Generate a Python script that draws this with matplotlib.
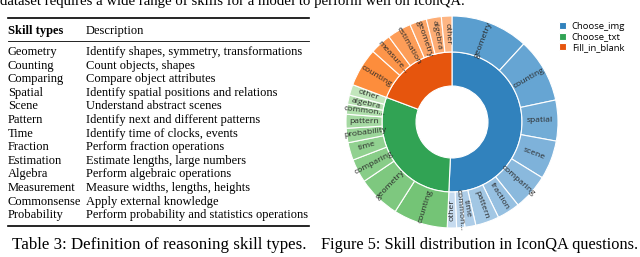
import numpy as np
import matplotlib.pyplot as plt
from matplotlib.colors import to_rgb

W, H = 640, 257

## 표 3 데이터
skills = ['Geometry', 'Counting', 'Comparing', 'Spatial', 'Scene', 'Pattern', 'Time',
          'Fraction', 'Estimation', 'Algebra', 'Measurement', 'Commonsense', 'Probability']
descs = ['Identify shapes, symmetry, transformations',
         'Count objects, shapes',
         'Compare object attributes',
         'Identify spatial positions and relations',
         'Understand abstract scenes',
         'Identify next and different patterns',
         'Identify time of clocks, events',
         'Perform fraction operations',
         'Estimate lengths, large numbers',
         'Perform algebraic operations',
         'Measure widths, lengths, heights',
         'Apply external knowledge',
         'Perform probability and statistics operations']

## 그림 5 데이터 (각도 비율로 읽은 값)
groups = ['Choose_img', 'Choose_txt', 'Fill_in_blank']
img_labels = ['geometry', 'counting', 'spatial', 'scene', 'comparing', 'fraction',
              'pattern', 'time', 'common…', 'other']
img_values = [42.6, 35.4, 22.4, 21.3, 19.8, 12.5, 13.0, 6.0, 4.5, 5.1]
txt_labels = ['counting', 'geometry', 'comparing', 'time', 'probability', 'pattern',
              'common…', 'algebra', 'other']
txt_values = [29.8, 23.6, 13.0, 9.7, 7.9, 7.6, 5.5, 5.0, 5.9]
blank_labels = ['counting', 'measure…', 'estimation', 'geometry', 'algebra', 'other']
blank_values = [21.2, 11.7, 13.2, 9.3, 8.2, 5.8]

fig = plt.figure(figsize=(W / 100, H / 100), dpi=100)


def px(x, y):
    return x / W, 1 - y / H


serif = 'Liberation Serif'

# 위쪽 본문 줄 (원본에서도 잘려 있음)
fig.text(*px(0, 4.5), 'dataset requires a wide range of skills for a model to perform well on IconQA.',
         family=serif, fontsize=10.6, va='baseline')

## 표
x0, x1, xd = 8, 309, 86


def hline(y, lw):
    fig.add_artist(plt.Line2D([x0 / W, x1 / W], [1 - y / H, 1 - y / H],
                              transform=fig.transFigure, color='black', lw=lw))


hline(18, 1.2)
hline(41, 0.6)
hline(226, 1.2)
fs = 9.0
fig.text(*px(x0, 31), 'Skill types', family=serif, fontsize=fs, weight='bold', va='center')
fig.text(*px(xd, 31), 'Description', family=serif, fontsize=fs, va='center')
for i, (s, d) in enumerate(zip(skills, descs)):
    y = 52 + i * 13.6
    fig.text(*px(x0, y), s, family=serif, fontsize=fs, va='center')
    fig.text(*px(xd, y), d, family=serif, fontsize=fs, va='center')

fig.text(*px(159, 245), 'Table 3: Definition of reasoning skill types.',
         family=serif, fontsize=12.2, ha='center', va='center')
fig.text(*px(480, 245), 'Figure 5: Skill distribution in IconQA questions.',
         family=serif, fontsize=11.8, ha='center', va='center')

## 선버스트
ax = fig.add_axes([344 / W, 1 - (14 + 216) / H, 216 / W, 216 / H])

inner_colors = ['#3182bd', '#31a354', '#e6550d']
shade_from = ['#5a9ecf', '#74c476', '#fd8d3c']
shade_to = ['#c6dbef', '#c2e6bc', '#fdb583']


def shades(c0, c1, n):
    a, b = np.array(to_rgb(c0)), np.array(to_rgb(c1))
    return [tuple(a + (b - a) * t) for t in np.linspace(0, 1, n)]


child_sets = [(img_labels, img_values), (txt_labels, txt_values), (blank_labels, blank_values)]
outer_labels, outer_values, outer_colors = [], [], []
for k, (labs, vals) in enumerate(child_sets):
    outer_labels += labs
    outer_values += vals
    outer_colors += shades(shade_from[k], shade_to[k], len(vals))

inner_values = [sum(v) for _, v in child_sets]

R, MID, HOLE = 106, 70, 36
inner_w, _ = ax.pie(inner_values, radius=MID, colors=inner_colors, startangle=90,
                    counterclock=False,
                    wedgeprops=dict(width=MID - HOLE, edgecolor='white', linewidth=0.8))
outer_w, _ = ax.pie(outer_values, radius=R, colors=outer_colors, startangle=90,
                    counterclock=False,
                    wedgeprops=dict(width=R - MID, edgecolor='white', linewidth=0.8))

rt = (R + MID) / 2
for w, lab in zip(outer_w, outer_labels):
    mid = np.deg2rad((w.theta1 + w.theta2) / 2)
    rot = ((np.rad2deg(mid) + 90) % 180) - 90
    ax.text(rt * np.cos(mid), rt * np.sin(mid), lab, rotation=rot, rotation_mode='anchor',
            ha='center', va='center', fontsize=6.1, color='#2a2a2a', family='Open Sans')

ax.set_xlim(-108, 108)
ax.set_ylim(-108, 108)
ax.set_aspect('equal')
ax.axis('off')

fig.legend(inner_w, groups, loc='upper left', bbox_to_anchor=(559 / W, 1 - 22 / H),
           frameon=False, prop=dict(family='Open Sans', size=6.8),
           handlelength=0.75, handleheight=0.75, handletextpad=0.6, labelspacing=0.15,
           borderaxespad=0, borderpad=0)

fig.savefig('out.png', dpi=100)
